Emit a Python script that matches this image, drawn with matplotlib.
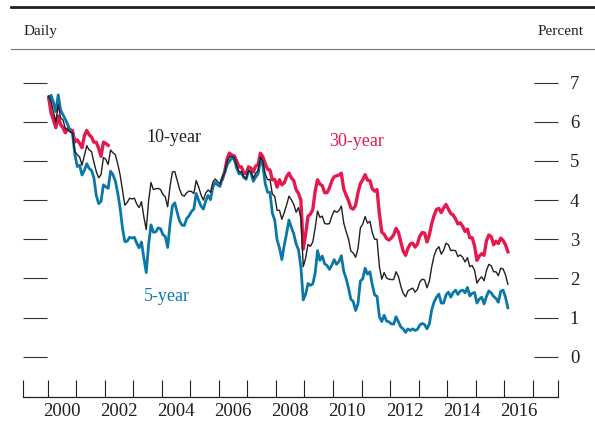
import numpy as np
import matplotlib.pyplot as plt
from matplotlib.lines import Line2D

# Treasury yields, monthly readings Jan 2000 - Feb 2016 (percent)
yield_5yr = [
    6.58, 6.68, 6.50, 6.26, 6.69, 6.30, 6.18, 6.06, 5.93, 5.78, 5.70, 5.17,  # 2000
    4.86, 4.89, 4.64, 4.76, 4.93, 4.81, 4.76, 4.57, 4.12, 3.91, 3.97, 4.39,  # 2001
    4.34, 4.30, 4.74, 4.65, 4.49, 4.19, 3.81, 3.29, 2.94, 2.95, 3.05, 3.03,  # 2002
    3.05, 2.90, 2.78, 2.93, 2.52, 2.15, 2.87, 3.37, 3.18, 3.19, 3.29, 3.27,  # 2003
    3.12, 3.07, 2.79, 3.39, 3.85, 3.93, 3.69, 3.47, 3.36, 3.35, 3.53, 3.60,  # 2004
    3.71, 3.77, 4.17, 4.00, 3.85, 3.77, 3.98, 4.12, 4.01, 4.33, 4.45, 4.39,  # 2005
    4.35, 4.57, 4.72, 4.90, 5.00, 5.07, 5.04, 4.82, 4.67, 4.69, 4.58, 4.53,  # 2006
    4.75, 4.71, 4.48, 4.59, 4.67, 5.03, 4.88, 4.43, 4.20, 4.20, 3.67, 3.49,  # 2007
    2.98, 2.78, 2.48, 2.84, 3.15, 3.49, 3.30, 3.14, 2.88, 2.73, 2.29, 1.45,  # 2008
    1.60, 1.87, 1.82, 1.86, 2.13, 2.71, 2.46, 2.57, 2.37, 2.33, 2.23, 2.34,  # 2009
    2.48, 2.36, 2.43, 2.58, 2.18, 2.00, 1.76, 1.47, 1.41, 1.18, 1.35, 1.93,  # 2010
    1.99, 2.26, 2.11, 2.17, 1.84, 1.58, 1.54, 1.02, 0.90, 1.06, 0.91, 0.89,  # 2011
    0.84, 0.83, 1.02, 0.89, 0.76, 0.71, 0.62, 0.71, 0.67, 0.71, 0.67, 0.70,  # 2012
    0.81, 0.85, 0.82, 0.71, 0.84, 1.20, 1.40, 1.52, 1.60, 1.37, 1.37, 1.58,  # 2013
    1.65, 1.52, 1.64, 1.70, 1.59, 1.68, 1.70, 1.63, 1.77, 1.55, 1.62, 1.64,  # 2014
    1.37, 1.47, 1.52, 1.35, 1.54, 1.68, 1.63, 1.54, 1.49, 1.39, 1.67, 1.70,  # 2015
    1.52, 1.25,                                                              # 2016
]

yield_10yr = [
    6.66, 6.52, 6.26, 5.99, 6.44, 6.10, 6.05, 5.83, 5.80, 5.74, 5.72, 5.24,  # 2000
    5.16, 5.10, 4.89, 5.14, 5.39, 5.28, 5.24, 4.97, 4.73, 4.57, 4.65, 5.09,  # 2001
    5.04, 4.91, 5.28, 5.21, 5.16, 4.93, 4.65, 4.26, 3.87, 3.94, 4.05, 4.03,  # 2002
    4.05, 3.90, 3.81, 3.96, 3.57, 3.25, 3.98, 4.45, 4.27, 4.29, 4.30, 4.27,  # 2003
    4.15, 4.08, 3.83, 4.35, 4.72, 4.73, 4.50, 4.28, 4.13, 4.10, 4.19, 4.23,  # 2004
    4.22, 4.17, 4.50, 4.34, 4.14, 4.00, 4.18, 4.26, 4.20, 4.46, 4.54, 4.47,  # 2005
    4.42, 4.57, 4.72, 4.99, 5.11, 5.11, 5.09, 4.88, 4.72, 4.73, 4.60, 4.56,  # 2006
    4.76, 4.72, 4.56, 4.69, 4.75, 5.10, 5.00, 4.67, 4.52, 4.53, 4.15, 4.10,  # 2007
    3.74, 3.74, 3.51, 3.68, 3.88, 4.10, 4.01, 3.89, 3.69, 3.81, 3.53, 2.30,  # 2008
    2.52, 2.87, 2.82, 2.93, 3.29, 3.72, 3.56, 3.59, 3.40, 3.39, 3.40, 3.59,  # 2009
    3.73, 3.69, 3.73, 3.85, 3.42, 3.20, 3.01, 2.70, 2.65, 2.54, 2.76, 3.29,  # 2010
    3.39, 3.58, 3.41, 3.46, 3.17, 3.00, 3.00, 2.30, 1.98, 2.15, 2.01, 1.98,  # 2011
    1.97, 1.97, 2.17, 2.05, 1.80, 1.62, 1.53, 1.68, 1.72, 1.75, 1.65, 1.72,  # 2012
    1.91, 1.98, 1.96, 1.76, 1.93, 2.30, 2.58, 2.74, 2.81, 2.62, 2.72, 2.90,  # 2013
    2.86, 2.71, 2.72, 2.71, 2.56, 2.60, 2.54, 2.42, 2.53, 2.30, 2.33, 2.21,  # 2014
    1.88, 1.98, 2.04, 1.94, 2.20, 2.36, 2.32, 2.17, 2.17, 2.07, 2.26, 2.24,  # 2015
    2.09, 1.85,                                                              # 2016
]

# 30-year: issued up to Feb 2002, then again from Feb 2006
yield_30yr_early = [
    6.63, 6.23, 6.05, 5.85, 6.15, 5.93, 5.85, 5.72, 5.83, 5.80, 5.78, 5.49,  # 2000
    5.54, 5.45, 5.34, 5.65, 5.78, 5.67, 5.61, 5.48, 5.48, 5.32, 5.12, 5.48,  # 2001
    5.45, 5.40,                                                              # 2002
]
yield_30yr_late = [
    4.54, 4.73, 5.06, 5.20, 5.15, 5.13, 5.00, 4.85, 4.85, 4.69, 4.68,        # 2006 (Feb-)
    4.85, 4.82, 4.72, 4.87, 4.90, 5.20, 5.11, 4.93, 4.79, 4.77, 4.52, 4.53,  # 2007
    4.33, 4.52, 4.39, 4.44, 4.60, 4.69, 4.57, 4.50, 4.27, 4.17, 4.00, 2.75,  # 2008
    3.13, 3.59, 3.64, 3.76, 4.23, 4.52, 4.41, 4.37, 4.19, 4.19, 4.31, 4.49,  # 2009
    4.60, 4.62, 4.64, 4.69, 4.29, 4.13, 3.99, 3.80, 3.77, 3.87, 4.19, 4.42,  # 2010
    4.52, 4.65, 4.51, 4.50, 4.29, 4.23, 4.27, 3.65, 3.18, 3.13, 3.02, 2.98,  # 2011
    3.03, 3.11, 3.28, 3.18, 2.93, 2.70, 2.59, 2.77, 2.88, 2.90, 2.80, 2.88,  # 2012
    3.08, 3.17, 3.16, 2.93, 3.11, 3.40, 3.61, 3.76, 3.79, 3.68, 3.80, 3.89,  # 2013
    3.77, 3.66, 3.62, 3.52, 3.39, 3.42, 3.33, 3.20, 3.26, 3.04, 3.04, 2.83,  # 2014
    2.46, 2.57, 2.63, 2.59, 2.96, 3.11, 3.07, 2.86, 2.95, 2.89, 3.03, 2.97,  # 2015
    2.86, 2.68,                                                              # 2016
]
late_start_month = 73  # Feb 2006, counted from Jan 2000

year_labels = [str(y) for y in range(2000, 2017, 2)]

RED = "#E5194D"
BLUE = "#0A77A8"
BLACK = "#231F20"


def month_to_year(idx):
    # mid-month position as decimal year
    return 2000 + (np.asarray(idx) + 0.5) / 12


t_all = month_to_year(np.arange(len(yield_10yr)))
t_30a = month_to_year(np.arange(len(yield_30yr_early)))
t_30b = month_to_year(late_start_month + np.arange(len(yield_30yr_late)))

plt.rcParams['font.family'] = ['Liberation Serif', 'DejaVu Serif']

W, H = 595, 424
fig = plt.figure(figsize=(W / 100, H / 100), dpi=100)
ax = fig.add_axes([22.5 / W, 1 - 397 / H, (558 - 22.5) / W, (397 - 60) / H])

ax.plot(t_30a, yield_30yr_early, color=RED, lw=2.4, solid_joinstyle='round')
ax.plot(t_30b, yield_30yr_late, color=RED, lw=2.4, solid_joinstyle='round')
ax.plot(t_all, yield_5yr, color=BLUE, lw=2.0, solid_joinstyle='round')
ax.plot(t_all, yield_10yr, color=BLACK, lw=1.0, solid_joinstyle='round')

x0, x1 = 1999.124, 2017.881
ax.set_xlim(x0, x1)
ax.set_ylim(-1.03, 7.58)

for side in ['top', 'left', 'right']:
    ax.spines[side].set_visible(False)
ax.spines['bottom'].set_linewidth(0.9)
ax.spines['bottom'].set_color(BLACK)

# year boundaries as ticks, labels centred in the year
ax.set_xticks([x0] + list(range(2000, 2018)) + [x1])
ax.set_xticklabels([])
ax.set_xticks([int(y) + 0.5 for y in year_labels], minor=True)
ax.set_xticklabels(year_labels, minor=True)
ax.tick_params(axis='x', which='major', direction='in', length=12.2,
               width=0.8, color=BLACK)
ax.tick_params(axis='x', which='minor', length=0, labelsize=13.5, pad=4.5,
               labelcolor=BLACK)

ax.set_yticks(range(0, 8))
ax.tick_params(axis='y', direction='in', length=17, width=0.8, color='#333333',
               left=True, right=True, labelleft=False, labelright=True,
               labelsize=13.5, pad=8.5, labelcolor=BLACK)

# series labels
ax.text(2004.43, 5.61, '10-year', color=BLACK, fontsize=13, ha='center', va='center')
ax.text(2010.81, 5.51, '30-year', color=RED, fontsize=13, ha='center', va='center')
ax.text(2004.19, 1.55, '5-year', color=BLUE, fontsize=13, ha='center', va='center')

# header rules and text
fig.add_artist(Line2D([11.4 / W, 1], [1 - 7 / H] * 2, color=BLACK, lw=2.0))
fig.add_artist(Line2D([11.4 / W, 1], [1 - 48.7 / H] * 2, color='#777777', lw=0.8))
fig.text(23.5 / W, 1 - 31.6 / H, 'Daily', fontsize=11, ha='left', va='center', color=BLACK)
fig.text(583.6 / W, 1 - 31.6 / H, 'Percent', fontsize=11, ha='right', va='center', color=BLACK)

fig.savefig('out.png', dpi=100)
